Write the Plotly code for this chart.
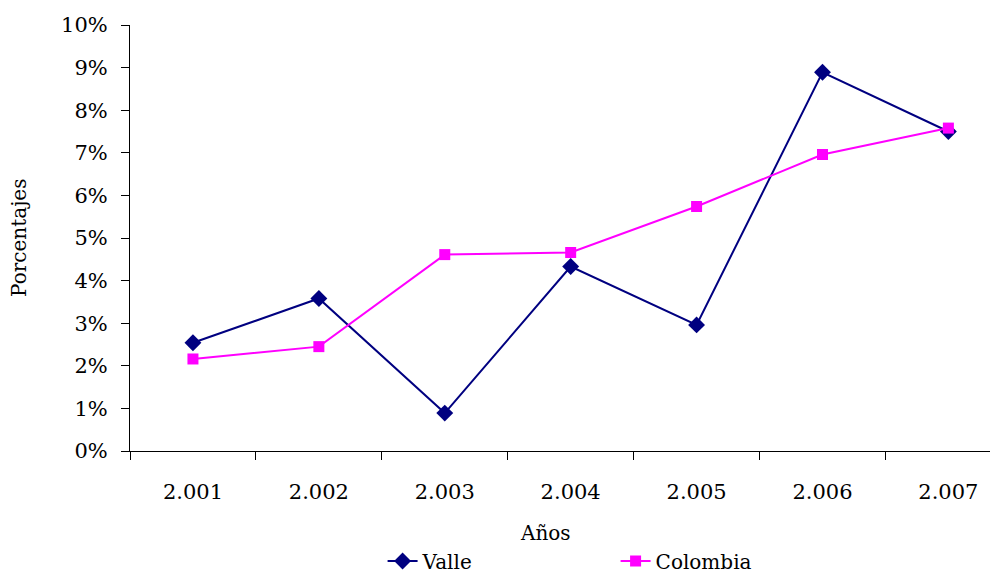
import plotly.graph_objects as go

years = ["2.001", "2.002", "2.003", "2.004", "2.005", "2.006", "2.007"]
valle = [2.54, 3.58, 0.89, 4.33, 2.96, 8.89, 7.50]
colombia = [2.16, 2.45, 4.61, 4.66, 5.74, 6.96, 7.58]
y_ticks = list(range(0, 11))
y_labels = [f"{v}%" for v in y_ticks]

FONT = "DejaVu Serif, Liberation Serif, serif"
FS = 20
TFS = 21

fig = go.Figure()
fig.add_trace(go.Scatter(
    x=years, y=valle, name="Valle", mode="lines+markers",
    line=dict(color="#000080", width=2),
    marker=dict(symbol="diamond", size=13, color="#000080"),
))
fig.add_trace(go.Scatter(
    x=years, y=colombia, name="Colombia", mode="lines+markers",
    line=dict(color="#FF00FF", width=2),
    marker=dict(symbol="square", size=11, color="#FF00FF"),
))

fig.update_layout(
    width=990, height=567,
    margin=dict(l=122, r=0, t=17, b=124, autoexpand=False),
    paper_bgcolor="white", plot_bgcolor="white",
    font=dict(family=FONT, size=FS, color="black"),
    showlegend=True,
    legend=dict(orientation="h", x=0.291, xanchor="left", y=-(561 - 451) / 426, yanchor="middle",
                font=dict(family=FONT, size=FS, color="black"),
                entrywidth=188, entrywidthmode="pixels",
                bgcolor="rgba(0,0,0,0)"),
    xaxis=dict(
        type="category", range=[-0.5, 6.394],
        showline=True, linecolor="black", linewidth=1,
        ticks="outside", tickson="boundaries", ticklen=8, tickcolor="black",
        showgrid=False, zeroline=False,
        ticklabelstandoff=22,
        tickfont=dict(family=FONT, size=TFS),
    ),
    yaxis=dict(
        range=[0, 10], tickvals=y_ticks, ticktext=y_labels,
        showline=True, linecolor="black", linewidth=1,
        ticks="outside", ticklen=8, tickcolor="black",
        showgrid=False, zeroline=False,
        ticklabelstandoff=9,
        tickfont=dict(family=FONT, size=TFS),
    ),
    annotations=[
        dict(text="Años", xref="paper", yref="paper", x=0.479, y=-(533 - 451) / 426,
             xanchor="center", yanchor="middle", showarrow=False,
             font=dict(family=FONT, size=FS)),
        dict(text="Porcentajes", xref="paper", yref="paper", x=-(130 - 19) / 868, y=0.5,
             xanchor="center", yanchor="middle", textangle=-90, showarrow=False,
             font=dict(family=FONT, size=FS)),
    ],
)

fig.write_html("out.html")
